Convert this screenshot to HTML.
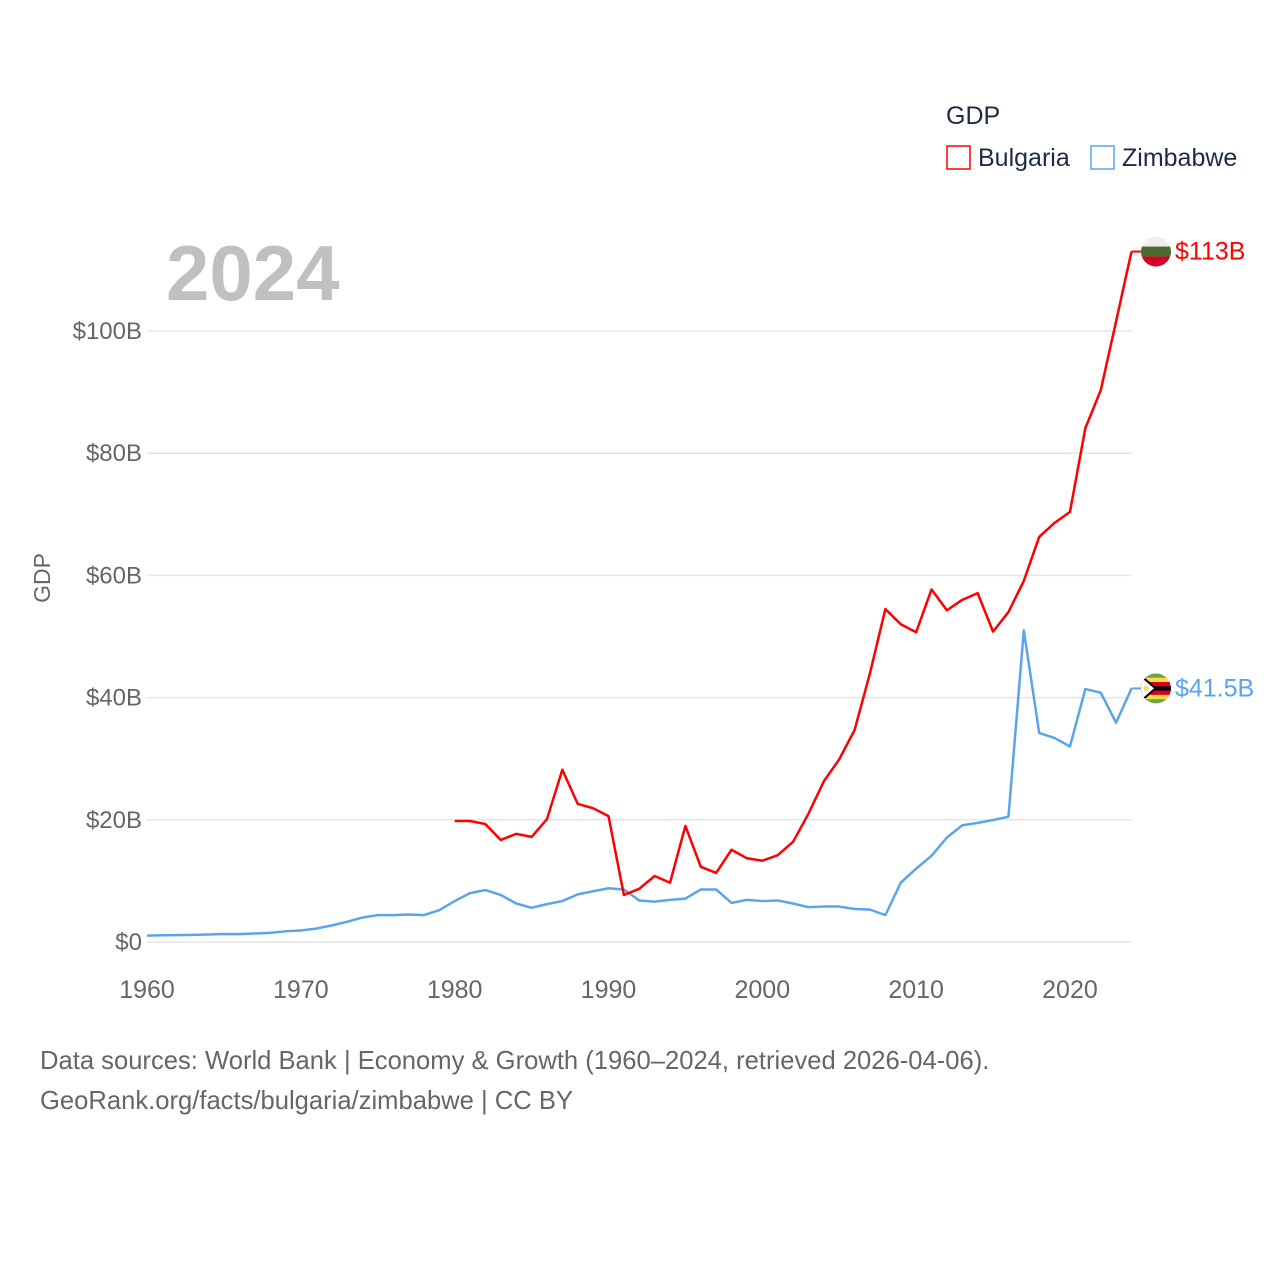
<!DOCTYPE html>
<html><head><meta charset="utf-8"><style>
body{margin:0;background:#fff;width:1280px;height:1280px;overflow:hidden;font-family:"Liberation Sans",sans-serif}
</style></head><body>
<svg id="chart" width="1280" height="1280" style="position:absolute;left:0;top:0">
<g id="grid"></g>
<g id="yticks"></g>
<g id="xticks"></g>
<text x="166" y="300" font-size="78" font-weight="bold" fill="#c0c0c0">2024</text>
<text transform="translate(50,578) rotate(-90)" text-anchor="middle" font-size="23" fill="#666">GDP</text>
<g id="series"></g>
<g>
<text x="946" y="124" font-size="25" fill="#1e2a44">GDP</text>
<g><rect x="947" y="146" width="23" height="23" fill="none" stroke="#ff0000" stroke-width="1.5"/><text x="978" y="166" font-size="25" fill="#1e2a44">Bulgaria</text></g>
<g><rect x="1091" y="146" width="23" height="23" fill="none" stroke="#5aa5ea" stroke-width="1.5"/><text x="1122" y="166" font-size="25" fill="#1e2a44">Zimbabwe</text></g>
</g>
<g>
<text x="40" y="1069" font-size="25.6" fill="#666">Data sources: World Bank | Economy &amp; Growth (1960–2024, retrieved 2026-04-06).</text>
<text x="40" y="1109" font-size="25.6" fill="#666">GeoRank.org/facts/bulgaria/zimbabwe | CC BY</text>
</g>
</svg>
<script>
const yearsBG = [1980,1981,1982,1983,1984,1985,1986,1987,1988,1989,1990,1991,1992,1993,1994,1995,1996,1997,1998,1999,2000,2001,2002,2003,2004,2005,2006,2007,2008,2009,2010,2011,2012,2013,2014,2015,2016,2017,2018,2019,2020,2021,2022,2023,2024];
const bulgaria = [19.8,19.8,19.3,16.7,17.7,17.2,20.1,28.2,22.6,21.9,20.6,7.7,8.7,10.8,9.7,19.0,12.3,11.3,15.1,13.7,13.3,14.2,16.4,21.0,26.3,29.9,34.7,44.0,54.5,52.0,50.7,57.7,54.3,56.0,57.1,50.8,54.0,59.1,66.3,68.6,70.4,84.1,90.3,101.6,113.0];
const yearsZW = [1960,1961,1962,1963,1964,1965,1966,1967,1968,1969,1970,1971,1972,1973,1974,1975,1976,1977,1978,1979,1980,1981,1982,1983,1984,1985,1986,1987,1988,1989,1990,1991,1992,1993,1994,1995,1996,1997,1998,1999,2000,2001,2002,2003,2004,2005,2006,2007,2008,2009,2010,2011,2012,2013,2014,2015,2016,2017,2018,2019,2020,2021,2022,2023,2024];
const zimbabwe = [1.05,1.1,1.12,1.16,1.22,1.3,1.28,1.4,1.5,1.75,1.88,2.2,2.7,3.3,4.0,4.4,4.4,4.5,4.4,5.2,6.7,8.0,8.5,7.7,6.3,5.6,6.2,6.7,7.8,8.3,8.8,8.6,6.8,6.6,6.9,7.1,8.6,8.6,6.4,6.9,6.7,6.8,6.3,5.7,5.8,5.8,5.4,5.3,4.4,9.7,12.0,14.1,17.1,19.1,19.5,19.96,20.5,51.0,34.2,33.4,32.0,41.4,40.8,35.9,41.5];
const yTicks = [0,20,40,60,80,100];
const yTickLabels = ["$0","$20B","$40B","$60B","$80B","$100B"];
const xTicks = [1960,1970,1980,1990,2000,2010,2020];
const endLabels = ["$113B","$41.5B"];

const NS="http://www.w3.org/2000/svg";
const X0=147,X1=1131.5,Y0=942,Y100=331;
const xs=y=>X0+(y-1960)*(X1-X0)/64;
const ys=v=>Y0-v*(Y0-Y100)/100;
function mk(tag,attrs,parent){const e=document.createElementNS(NS,tag);for(const k in attrs)e.setAttribute(k,attrs[k]);parent.appendChild(e);return e;}
const grid=document.getElementById('grid'),yt=document.getElementById('yticks'),xt=document.getElementById('xticks'),sr=document.getElementById('series');
yTicks.forEach((v,i)=>{
  const l=mk('line',{x1:X0,x2:X1,y1:ys(v),y2:ys(v),stroke:'#e6e6e6','stroke-width':1.5},grid);
  
  
  const t=mk('text',{x:142,y:ys(v)+8,'text-anchor':'end','font-size':24,fill:'#666'},yt);
  t.textContent=yTickLabels[i];
  
  
});
xTicks.forEach(v=>{
  const t=mk('text',{x:xs(v),y:998,'text-anchor':'middle','font-size':25,fill:'#666'},xt);
  t.textContent=v;
  
  
});
function line(years,vals,color,name){
  const p=mk('polyline',{points:years.map((y,i)=>xs(y)+','+ys(vals[i])).join(' '),fill:'none',stroke:color,'stroke-width':2.5,'stroke-linejoin':'round'},sr);
  
  
}
line(yearsZW,zimbabwe,'#5aa5ea','zimbabwe-line');
line(yearsBG,bulgaria,'#ff0000','bulgaria-line');
function flagBG(cx,cy){
  const g=mk('g',{},sr);
  
  
  const cp=mk('clipPath',{id:'cb'},g);mk('circle',{cx:cx,cy:cy,r:15},cp);
  const h=mk('g',{'clip-path':'url(#cb)'},g);
  mk('rect',{x:cx-15,y:cy-15,width:30,height:10,fill:'#eee'},h);
  mk('rect',{x:cx-15,y:cy-5,width:30,height:10,fill:'#4a6a2e'},h);
  mk('rect',{x:cx-15,y:cy+5,width:30,height:10,fill:'#d80027'},h);
}
function flagZW(cx,cy){
  const g=mk('g',{},sr);
  
  
  const cp=mk('clipPath',{id:'cz'},g);mk('circle',{cx:cx,cy:cy,r:15},cp);
  const h=mk('g',{'clip-path':'url(#cz)'},g);
  const cols=['#6da544','#ffda44','#d80027','#000','#d80027','#ffda44','#6da544'];
  cols.forEach((c,i)=>mk('rect',{x:cx-15,y:cy-15+i*30/7,width:30,height:30/7+0.5,fill:c},h));
  mk('polygon',{points:`${cx-16},${cy-15} ${cx+1},${cy} ${cx-16},${cy+15}`,fill:'#000'},h);
  mk('polygon',{points:`${cx-16},${cy-12} ${cx-2},${cy} ${cx-16},${cy+12}`,fill:'#fff'},h);
  mk('circle',{cx:cx-10,cy:cy,r:2.5,fill:'#ffda44'},h);
}
[[bulgaria[bulgaria.length-1],'#ff0000',flagBG,endLabels[0]],[zimbabwe[zimbabwe.length-1],'#5aa5ea',flagZW,endLabels[1]]].forEach(([v,c,f,lab])=>{
  const y=ys(v);
  mk('line',{x1:X1,x2:1141,y1:y,y2:y,stroke:c,'stroke-width':2},sr);
  f(1156,y);
  const t=mk('text',{x:1175,y:y+8,'font-size':25,fill:c},sr);
  t.textContent=lab;
  
  
});
</script>
</body></html>
